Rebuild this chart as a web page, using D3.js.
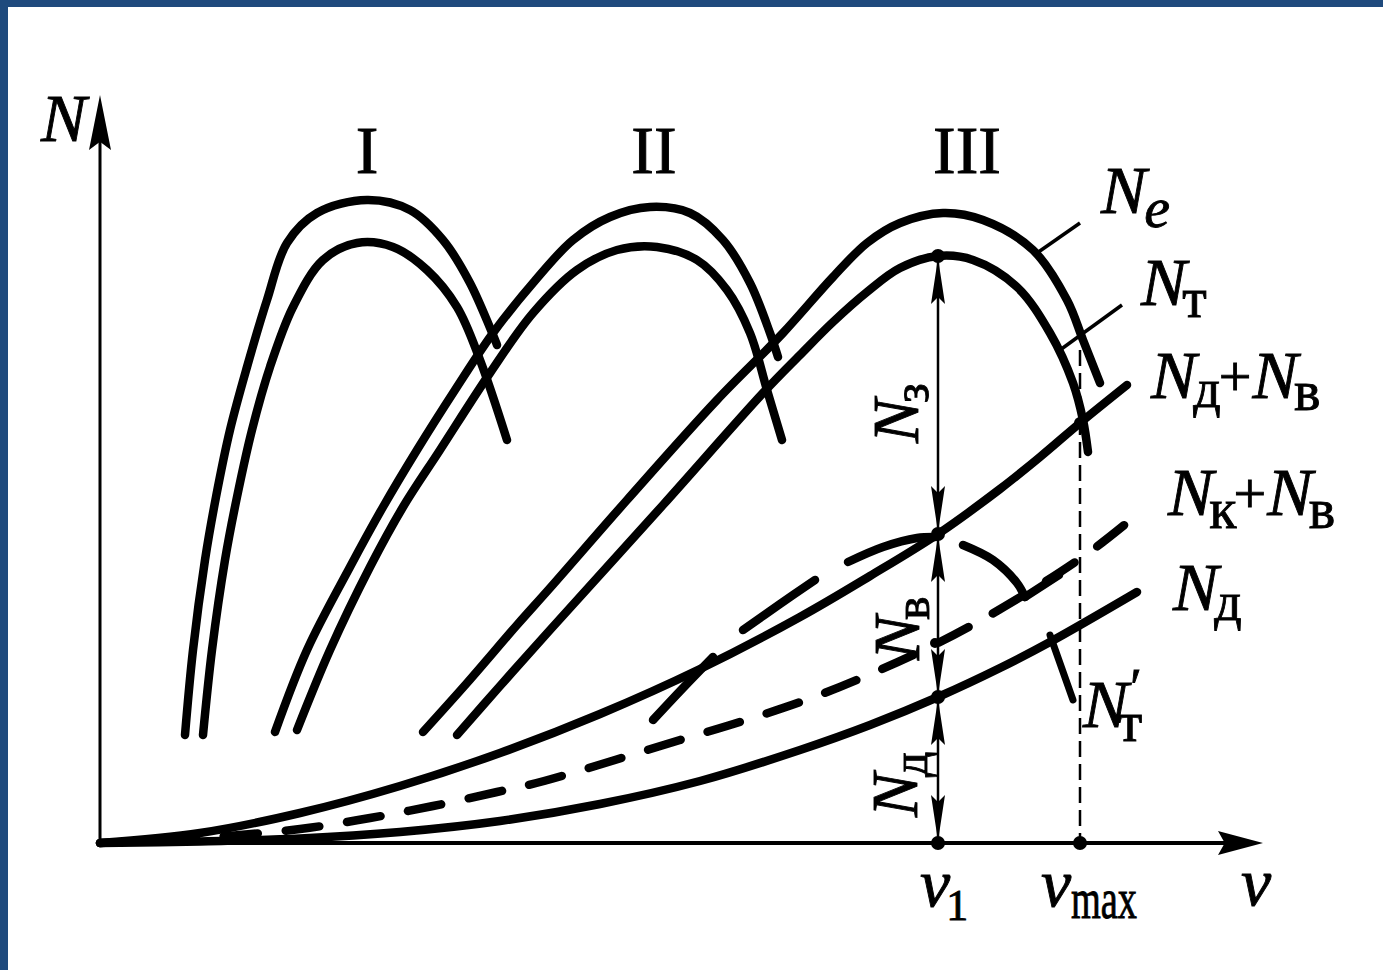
<!DOCTYPE html>
<html><head><meta charset="utf-8">
<script src="https://cdn.jsdelivr.net/npm/d3@7"></script>
<style>html,body{margin:0;padding:0;background:#fff}svg{display:block}</style>
</head><body>
<svg id="c" width="1383" height="970"></svg>
<script>
// ---- data (v and N in chart units) ----
const romanLabels = ["I", "II", "III"];
const romanPos = [26.7, 55.4, 86.7];
const neI  = [[8.5,10.8],[9.3,19.3],[10.5,28.3],[11.6,34.6],[13.0,41.3],[14.7,47.6],[16.7,54.3],[18.7,60.0],[21.7,63.0],[26.7,64.3],[31.0,63.3],[34.3,60.3],[37.0,56.0],[39.7,49.8]];
const ntI  = [[10.3,10.8],[11.2,19.3],[12.5,28.3],[13.7,34.6],[15.2,41.3],[17.0,47.6],[19.3,53.6],[22.3,58.3],[25.7,60.0],[29.3,59.6],[32.7,57.3],[35.7,53.6],[38.0,48.3],[40.7,40.3]];
const neII = [[17.5,11.1],[20.7,19.3],[25.0,27.6],[28.3,33.6],[31.7,39.3],[35.5,45.3],[39.3,51.0],[43.3,56.0],[47.3,60.3],[51.0,62.6],[55.0,63.6],[59.0,63.0],[62.3,60.3],[65.0,56.0],[67.0,51.0],[67.8,48.6]];
const ntII = [[19.7,11.3],[23.0,19.3],[27.0,27.6],[30.3,33.6],[34.0,39.3],[39.0,47.0],[43.3,53.0],[47.7,57.3],[51.7,59.3],[55.7,59.6],[59.7,58.3],[62.7,55.3],[65.0,51.0],[66.7,45.3],[68.2,40.3]];
const neIII = [[32.3,11.1],[36.7,16.0],[41.7,21.8],[45.0,25.5],[52.7,34.3],[61.7,44.3],[68.3,51.0],[73.3,56.6],[76.7,60.0],[80.0,62.0],[84.3,63.0],[88.3,62.3],[93.3,59.3],[96.7,54.3],[98.3,50.3],[100.0,46.0]];
const ntIII = [[35.7,10.8],[40.0,15.7],[45.0,21.3],[56.3,33.8],[66.3,45.0],[70.0,48.8],[73.3,52.1],[76.7,55.1],[80.0,57.5],[83.8,58.7],[87.3,58.3],[91.7,55.6],[95.0,51.0],[97.3,46.0],[98.3,42.3],[98.8,39.1]];
const ndPlusNv = [[0,0],[10,1.0],[20,3.0],[30,5.7],[40,9.0],[50,12.9],[60,17.4],[70,22.6],[77,26.7],[83.8,30.9],[90,35.4],[94,38.6],[98,42.0],[102.7,45.8]];
const nkPlusNv = [[0,0],[10,0.5],[20,1.4],[27,2.5],[33.3,3.7],[39.7,5.1],[44.4,6.2],[58,10.3],[64.3,12.2],[70.6,14.3],[76.6,16.7],[83.8,20.0],[88.3,22.4],[94,25.8],[99.5,29.5],[104.5,33.5]];
const nd = [[0,0],[10,0.15],[20,0.45],[30,1.1],[40,2.2],[50,3.9],[60,6.2],[70,9.3],[77,11.8],[83.8,14.6],[90,17.5],[95,20.1],[103.7,25.1]];
const transitionDashes = [
  [[55.3,12.3],[58.3,15.5],[61.3,18.6]],
  [[64.3,21.3],[68.0,23.9],[71.5,26.3]],
  [[74.8,28.1],[78.3,29.6],[81.7,30.5],[83.5,30.6]],
  [[86.3,29.8],[89.3,28.3],[91.7,26.0],[92.5,24.6]],
  [[92.5,24.6],[95.9,26.8]]
];
const leaderThin = [ [[93.7,59.0],[98.0,62.0]], [[96.0,49.3],[102.2,53.8]] ];
const leaderThick = [ [[95.0,20.8],[97.3,14.3]] ];
const v1 = 83.8, vmax = 98.0;
const levelNt = 58.7, levelNdNv = 30.9, levelNk = 20.0, levelNd = 14.6, levelVmaxTop = 49.3, levelVmaxNt = 42.0;

// ---- scales ----
const svg = d3.select("#c");
const x = d3.scaleLinear().domain([0, 116.3]).range([100, 1263]);
const y = d3.scaleLinear().domain([0, 75]).range([843, 93]);

// frame
svg.append("rect").attr("x",0).attr("y",0).attr("width",1383).attr("height",970).attr("fill","#fff");
svg.append("rect").attr("x",0).attr("y",0).attr("width",1383).attr("height",7).attr("fill","#1F4A7D");
svg.append("rect").attr("x",0).attr("y",0).attr("width",8).attr("height",970).attr("fill","#1F4A7D");

const line = d3.line().x(d=>x(d[0])).y(d=>y(d[1])).curve(d3.curveCatmullRom.alpha(0.5));
const straight = d3.line().x(d=>x(d[0])).y(d=>y(d[1]));

function arrowHead(tipX, tipY, dx, dy, len, hw){
  const bx = tipX - dx*len, by = tipY - dy*len;
  const px = -dy, py = dx;
  const mx = tipX - dx*len*0.85, my = tipY - dy*len*0.85;
  svg.append("path")
    .attr("d", `M${tipX},${tipY}L${bx+px*hw},${by+py*hw}L${mx},${my}L${bx-px*hw},${by-py*hw}Z`)
    .attr("fill","#000");
}

// axes
svg.append("line").attr("x1",x(0)).attr("y1",y(0)).attr("x2",x(114)).attr("y2",y(0)).attr("stroke","#000").attr("stroke-width",4);
svg.append("line").attr("x1",x(0)).attr("y1",y(0)).attr("x2",x(0)).attr("y2",y(72)).attr("stroke","#000").attr("stroke-width",3);
arrowHead(x(116.3), y(0), 1, 0, 45, 12);
arrowHead(x(0), y(74.8), 0, -1, 55, 11);

// dashed vmax guide
svg.append("line").attr("x1",x(vmax)).attr("y1",y(levelVmaxTop)).attr("x2",x(vmax)).attr("y2",y(0))
  .attr("stroke","#000").attr("stroke-width",2.5).attr("stroke-dasharray","16,7");

// main curves
const thick = 8.5;
[neI, ntI, neII, ntII, neIII, ntIII, ndPlusNv, nd].forEach(c=>{
  svg.append("path").attr("d", line(c)).attr("fill","none").attr("stroke","#000")
    .attr("stroke-width", thick).attr("stroke-linecap","round");
});
svg.append("path").attr("d", line(nkPlusNv)).attr("fill","none").attr("stroke","#000")
  .attr("stroke-width", thick).attr("stroke-linecap","round").attr("stroke-dasharray","34,28");
transitionDashes.forEach(c=>{
  svg.append("path").attr("d", line(c)).attr("fill","none").attr("stroke","#000")
    .attr("stroke-width", thick).attr("stroke-linecap","round");
});
leaderThin.forEach(c=>{
  svg.append("path").attr("d", straight(c)).attr("fill","none").attr("stroke","#000").attr("stroke-width",3.5);
});
leaderThick.forEach(c=>{
  svg.append("path").attr("d", straight(c)).attr("fill","none").attr("stroke","#000").attr("stroke-width",7).attr("stroke-linecap","round");
});

// dimension arrows at v1
svg.append("line").attr("x1",x(v1)).attr("y1",y(levelNt)).attr("x2",x(v1)).attr("y2",y(0))
  .attr("stroke","#000").attr("stroke-width",2.5);
const dims = [[levelNt, levelNdNv], [levelNdNv, levelNd], [levelNd, 0]];
dims.forEach(([top, bot])=>{
  arrowHead(x(v1), y(top)+2, 0, -1, 46, 7);
  arrowHead(x(v1), y(bot)-2, 0, 1, 46, 7);
});

// dots
const dots = [[v1,levelNt,7],[v1,levelNdNv,7],[v1,levelNd,7],[v1,0,7],[vmax,0,7],[vmax,levelVmaxNt,6],[v1-0.3,levelNk,5]];
svg.selectAll("circle.dot").data(dots).enter().append("circle")
  .attr("cx",d=>x(d[0])).attr("cy",d=>y(d[1])).attr("r",d=>d[2]).attr("fill","#000");

// ---- text ----
const serif = "'Liberation Serif','Times New Roman',serif";
function label(ux, uy, parts, anchor){
  const t = svg.append("text").attr("x", x(ux)).attr("y", y(uy))
    .attr("font-family", serif).attr("fill","#000").attr("stroke","#000").attr("stroke-width",0.9)
    .attr("text-anchor", anchor || "start");
  parts.forEach(p=>{
    const s = t.append("tspan").text(p.s).attr("font-size", p.size)
      .attr("font-style", p.it ? "italic" : "normal");
    if (p.dx) s.attr("dx", p.dx);
    if (p.dy) s.attr("dy", p.dy);
  });
  return t;
}
const N = {s:"N", size:68, it:true};
romanLabels.forEach((s,i)=> label(romanPos[i], 67.0, [{s, size:68}], "middle"));
label(-5.9, 70.2, [N]);
label(100.1, 63.0, [N, {s:"e", size:58, it:true, dx:-2, dy:14}]);
label(104.1, 53.8, [N, {s:"т", size:56, dx:-4, dy:12}]);
label(105.1, 44.5, [N, {s:"д", size:54, dx:-3, dy:9}, {s:"+", size:58, dx:-2, dy:-11},
  {s:"N", size:68, it:true, dx:1, dy:2}, {s:"в", size:56, dx:-4, dy:12}]);
label(106.8, 32.8, [N, {s:"к", size:56, dx:-4, dy:13}, {s:"+", size:58, dx:-3, dy:-15},
  {s:"N", size:68, it:true, dx:1, dy:2}, {s:"в", size:56, dx:-4, dy:13}]);
label(107.3, 23.3, [N, {s:"д", size:54, dx:-4, dy:10}]);
label(98.3, 11.6, [N, {s:"′", size:52, dx:2, dy:-22}, {s:"т", size:56, dx:-24, dy:36}]);
// x-axis labels
label(82.0, -6.3, [{s:"v", size:68, it:true}, {s:"1", size:44, dx:-4, dy:14}]);
label(94.1, -6.3, [{s:"v", size:68, it:true}]);
label(97.1, -7.5, [{s:"max", size:56}]).attr("textLength", 66).attr("lengthAdjust","spacingAndGlyphs");
label(114.1, -6.2, [{s:"v", size:68, it:true}]);

// rotated dimension labels
function rotLabel(ux, uy, sub){
  const g = svg.append("g").attr("transform", `translate(${x(ux)},${y(uy)}) rotate(-90)`);
  const t = g.append("text").attr("x",0).attr("y",0).attr("font-family", serif).attr("fill","#000")
    .attr("stroke","#000").attr("stroke-width",0.9);
  t.append("tspan").text("N").attr("font-size",66).attr("font-style","italic");
  t.append("tspan").text(sub).attr("font-size",50).attr("dx",-4).attr("dy",10);
}
rotLabel(81.8, 40.0, "з");
rotLabel(81.9, 18.3, "в");
rotLabel(81.7, 2.6, "д");
</script>
</body></html>
